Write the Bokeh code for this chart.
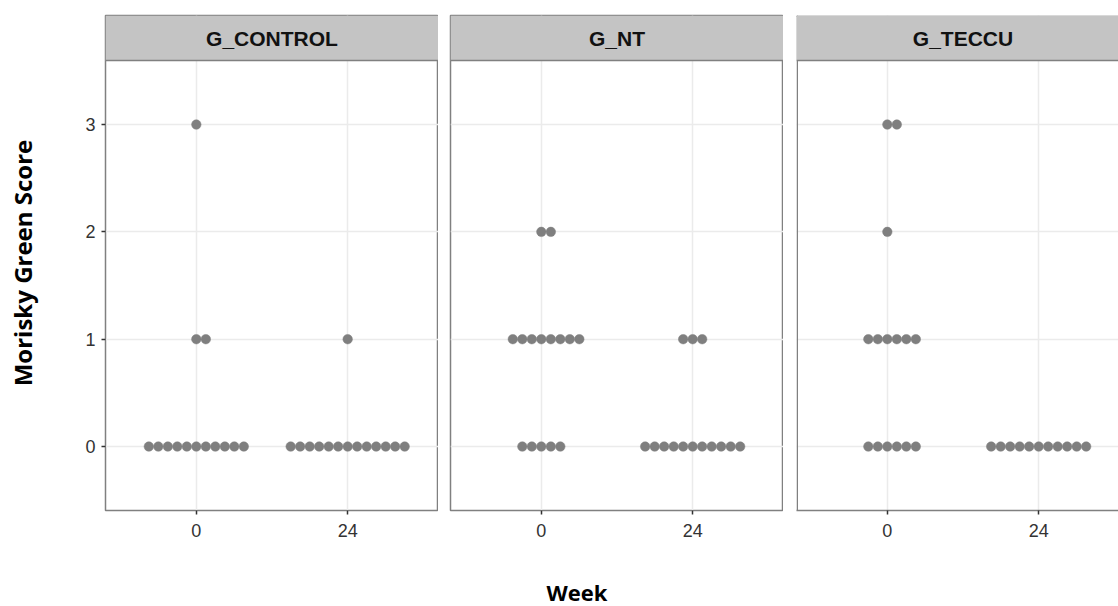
import numpy as np
from bokeh.plotting import figure
from bokeh.models import Range1d, FixedTicker, BoxAnnotation, Span, Label, Title
from bokeh.layouts import row
from bokeh.embed import file_html
from bokeh.resources import INLINE

# ---- data (counts of participants per score) ----
groups = ["G_CONTROL", "G_NT", "G_TECCU"]
weeks = [0, 24]
week_labels = ["0", "24"]
scores = [0, 1, 2, 3]
control_week0 = [11, 2, 0, 1]
control_week24 = [13, 1, 0, 0]
nt_week0 = [5, 8, 2, 0]
nt_week24 = [11, 3, 0, 0]
teccu_week0 = [6, 6, 1, 2]
teccu_week24 = [11, 0, 0, 0]
counts = {
    "G_CONTROL": [control_week0, control_week24],
    "G_NT": [nt_week0, nt_week24],
    "G_TECCU": [teccu_week0, teccu_week24],
}

# ---- scales ----
X_START, X_END = -14.4, 38.4
Y_START, Y_END = -0.596, 4.016
STRIP_BOTTOM = 3.596
FRAME_W = 333
FRAME_H = 495
PX_PER_X = FRAME_W / (X_END - X_START)
PX_PER_Y = FRAME_H / (Y_END - Y_START)
DOT_PX = 9.5
DOT_STEP = DOT_PX / PX_PER_X

DOT_COLOR = "#7f7f7f"
BORDER = "#808080"
STRIP_FILL = "#c4c4c4"
GRID = "#ebebeb"
TICK_COL = "#333333"


def dot_positions(counts_by_week):
    xs, ys = [], []
    for w, cnts in zip(weeks, counts_by_week):
        for s, n in zip(scores, cnts):
            lo = -((n - 1) // 2)
            for k in range(n):
                xs.append(w + (lo + k) * DOT_STEP)
                ys.append(s)
    return xs, ys


panels = []
lefts = [105, 12, 13]
for i, g in enumerate(groups):
    last = i == len(groups) - 1
    frame_w = 322 if last else FRAME_W
    x_end = X_START + frame_w / PX_PER_X
    p = figure(frame_width=frame_w, frame_height=FRAME_H,
               x_range=Range1d(X_START, x_end), y_range=Range1d(Y_START, Y_END),
               output_backend="svg", toolbar_location=None,
               min_border_left=lefts[i], min_border_right=0,
               min_border_top=15, min_border_bottom=60)
    p.background_fill_color = "white"
    p.border_fill_color = "white"
    if last:
        p.outline_line_color = None
    else:
        p.outline_line_color = BORDER
        p.outline_line_width = 1.5

    # grid
    p.xgrid.ticker = FixedTicker(ticks=weeks)
    p.ygrid.ticker = FixedTicker(ticks=scores)
    p.xgrid.grid_line_color = GRID
    p.ygrid.grid_line_color = GRID
    p.xgrid.grid_line_width = 1.5
    p.ygrid.grid_line_width = 1.5

    # x axis
    xa = p.xaxis[0]
    xa.ticker = FixedTicker(ticks=weeks)
    xa.major_label_overrides = {w: l for w, l in zip(weeks, week_labels)}
    xa.major_label_text_font = "Liberation Sans"
    xa.major_label_text_font_size = "18px"
    xa.major_label_text_color = TICK_COL
    xa.major_tick_in = 0
    xa.major_tick_out = 4
    xa.major_tick_line_color = TICK_COL
    xa.major_tick_line_width = 1.5
    xa.minor_tick_line_color = None
    xa.major_label_standoff = 9
    xa.axis_line_color = BORDER if last else None
    xa.axis_line_width = 1.5

    # y axis
    ya = p.yaxis[0]
    ya.ticker = FixedTicker(ticks=scores)
    ya.minor_tick_line_color = None
    if i == 0:
        ya.axis_label = "Morisky Green Score"
        ya.axis_label_text_font = "Open Sans"
        ya.axis_label_text_font_style = "bold"
        ya.axis_label_text_font_size = "24px"
        ya.axis_label_text_color = "black"
        ya.axis_label_standoff = 43
        ya.major_label_text_font = "Liberation Sans"
        ya.major_label_text_font_size = "18px"
        ya.major_label_text_color = TICK_COL
        ya.major_tick_in = 0
        ya.major_tick_out = 4
        ya.major_tick_line_color = TICK_COL
        ya.major_tick_line_width = 1.5
        ya.major_label_standoff = 6
        ya.axis_line_color = None
    else:
        ya.visible = False

    if last:
        # panel is cut at the right edge: draw left/top borders only
        p.add_layout(Span(location=X_START + 0.75 / PX_PER_X, dimension="height",
                          line_color=BORDER, line_width=1.5))
        p.add_layout(Span(location=Y_END - 0.75 / PX_PER_Y, dimension="width",
                          line_color=BORDER, line_width=1.5))

    # dots
    xs, ys = dot_positions(counts[g])
    p.scatter(xs, ys, size=DOT_PX, fill_color=DOT_COLOR, line_color=DOT_COLOR,
              line_width=0.5)

    # strip
    p.add_layout(BoxAnnotation(bottom=STRIP_BOTTOM, top=Y_END, fill_color=STRIP_FILL,
                               fill_alpha=1.0, line_color=None))
    p.add_layout(Span(location=STRIP_BOTTOM, dimension="width", line_color=BORDER,
                      line_width=1.5))
    p.add_layout(Label(x=(X_START + X_END) / 2, y=(STRIP_BOTTOM + Y_END) / 2, text=g,
                       text_align="center", text_baseline="middle",
                       text_font="Liberation Sans", text_font_style="bold",
                       text_font_size="21px", text_color="#111111"))

    if i == 1:
        # x-axis title, placed where the original has it
        p.add_layout(Title(text="Week", align="left", offset=96, standoff=70,
                           text_font="Open Sans", text_font_style="bold",
                           text_font_size="22px", text_color="black"), "below")
    panels.append(p)

layout = row(*panels, spacing=0)
open("out.html", "w").write(file_html(layout, INLINE))
